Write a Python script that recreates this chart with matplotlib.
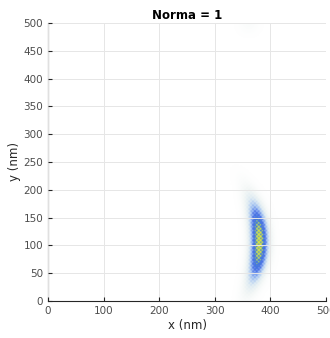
import numpy as np
import matplotlib
matplotlib.use("Agg")
import matplotlib.pyplot as plt
from matplotlib.colors import LinearSegmentedColormap

# wave packet parameters (nm)
x_center = 379.0      # crest of the crescent
y_center = 106.0
sigma_x = 11.0
half_len_y = 70.0     # half length of the packet along y
bend = 0.0022         # crescent curvature
period = 7.0          # fine fringe period
ghost = (360.0, 498.0, 12.0, 0.04)   # faint spot near the top edge (x, y, sigma, amp)

xticks = [0, 100, 200, 300, 400, 500]
yticks = [0, 50, 100, 150, 200, 250, 300, 350, 400, 450, 500]

x = np.linspace(0, 500, 501)
y = np.linspace(0, 500, 501)
X, Y = np.meshgrid(x, y)
xc = x_center - bend * (Y - y_center) ** 2
env = np.exp(-((X - xc) ** 2) / (2 * sigma_x ** 2) - (np.abs(Y - y_center) / half_len_y) ** 2.5)
fringe = 0.85 + 0.15 * np.cos(2 * np.pi * Y / period) * np.cos(2 * np.pi * X / period)
Z = env * fringe
gx, gy, gs, ga = ghost
Z += ga * np.exp(-((X - gx) ** 2 + (Y - gy) ** 2) / (2 * gs ** 2))

cmap = LinearSegmentedColormap.from_list("pk", [
    (0.0, "#ffffff"), (0.1, "#f3f7f6"), (0.22, "#e0ecf2"), (0.38, "#a6c4f2"),
    (0.55, "#4d73e6"), (0.68, "#3f78dc"), (0.8, "#b4d26a"), (1.0, "#f4ec22")])

plt.rcParams.update({"font.family": "DejaVu Sans", "font.size": 7.5})
fig = plt.figure(figsize=(3.30, 3.38), dpi=100)
ax = fig.add_axes([0.1455, 0.1095, 0.8425, 0.8225])
ax.imshow(Z, extent=[0, 500, 0, 500], origin="lower", cmap=cmap,
          vmin=0, vmax=Z.max(), interpolation="bilinear", aspect="auto")
ax.set_xlim(0, 500); ax.set_ylim(0, 500)
ax.set_xticks(xticks); ax.set_yticks(yticks)
ax.grid(True, color="#e6e6e6", lw=0.7)
ax.set_axisbelow(False)
for s in ["top", "right"]:
    ax.spines[s].set_visible(False)
for s in ["left", "bottom"]:
    ax.spines[s].set_color("#262626"); ax.spines[s].set_linewidth(0.8)
ax.tick_params(direction="in", length=3, colors="#262626", labelcolor="#4d4d4d", labelsize=7.5)
ax.set_xlabel("x (nm)", color="#262626", fontsize=8.5, labelpad=2)
ax.set_ylabel("y (nm)", color="#262626", fontsize=8.5, labelpad=2)
ax.set_title("Norma = 1", fontweight="bold", fontsize=8.5, pad=3)
fig.savefig("out.png", dpi=100)
